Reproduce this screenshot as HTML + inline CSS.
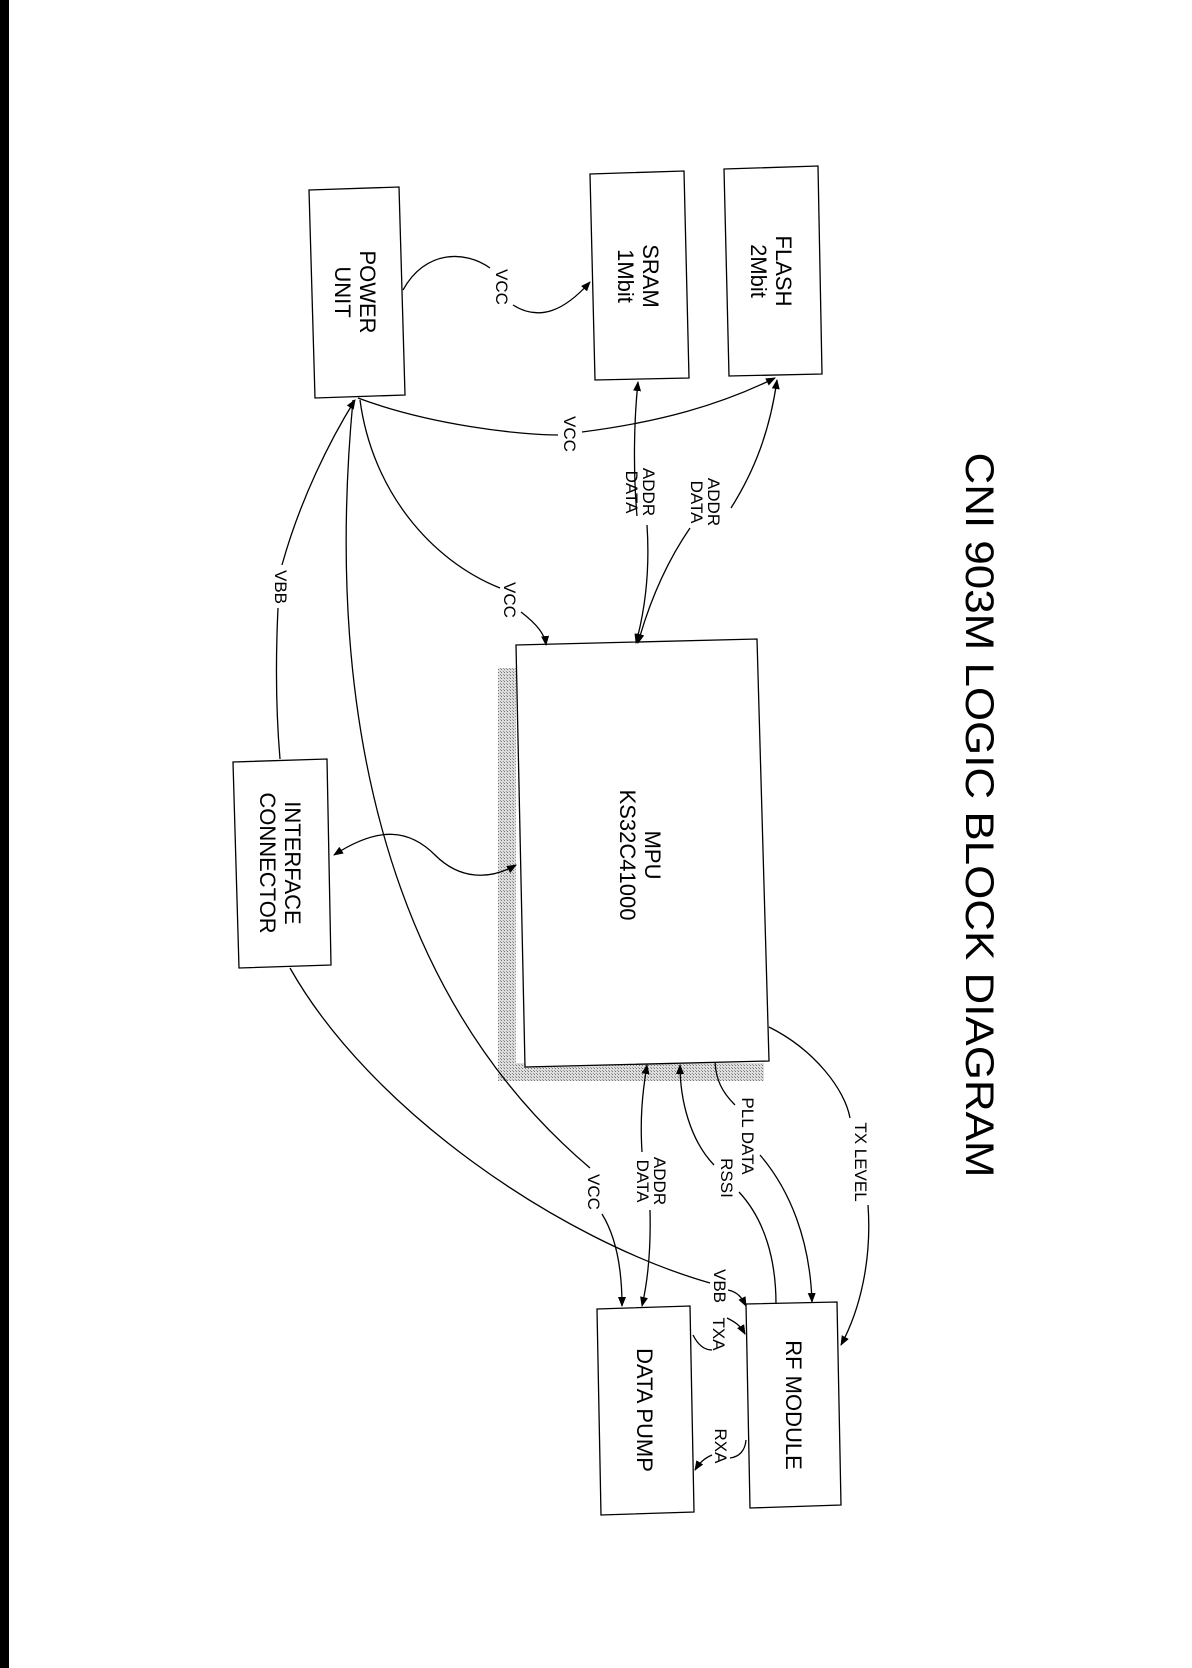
<!DOCTYPE html>
<html><head><meta charset="utf-8"><style>html,body{margin:0;padding:0;background:#fff}svg{display:block}text{font-family:"Liberation Sans",Arial,sans-serif;fill:#000}</style></head>
<body>
<svg width="1192" height="1668" viewBox="0 0 1192 1668" xmlns="http://www.w3.org/2000/svg">
<defs>
<marker id="a" markerWidth="10" markerHeight="8" refX="9" refY="4" orient="auto" markerUnits="userSpaceOnUse"><path d="M0,0 L10,4 L0,8 z" fill="#000"/></marker>
<marker id="b" markerWidth="10" markerHeight="8" refX="1" refY="4" orient="auto" markerUnits="userSpaceOnUse"><path d="M10,0 L0,4 L10,8 z" fill="#000"/></marker>
<pattern id="h" width="3" height="3" patternUnits="userSpaceOnUse"><rect width="3" height="3" fill="#ddd"/><rect width="1" height="1" fill="#777"/><rect x="2" y="2" width="1" height="1" fill="#999"/></pattern>
</defs>
<rect x="0" y="0" width="9" height="1668" fill="#000"/>
<g fill="none" stroke="#000" stroke-width="1.3">
<rect x="498" y="668" width="18" height="413" fill="url(#h)" stroke="none"/>
<rect x="498" y="1063" width="266" height="18" fill="url(#h)" stroke="none"/>
<polygon points="516,645 757,639 769,1061 525,1067" fill="#fff"/>
<polygon points="309,190 399,187 405,395 315,398" fill="#fff"/>
<polygon points="590,174 684,171 689,378 595,380" fill="#fff"/>
<polygon points="724,169 818,166 822,374 729,376" fill="#fff"/>
<polygon points="233,762 327,759 331,965 239,968" fill="#fff"/>
<polygon points="597,1309 690,1306 694,1512 601,1515" fill="#fff"/>
<polygon points="746,1304 837,1302 841,1505 750,1508" fill="#fff"/>

<path d="M403,290 C425,250 465,250 490,268"/>
<path d="M513,305 C540,322 565,310 590,282" marker-end="url(#a)"/>
<path d="M358,398 C430,425 520,435 558,435"/>
<path d="M582,432 C660,422 720,405 775,378" marker-end="url(#a)"/>
<path d="M637,516 C633,470 634,420 638,382" marker-end="url(#a)"/>
<path d="M647,525 C650,570 645,610 636,643" marker-end="url(#a)"/>
<path d="M731,508 C755,470 770,430 777,380" marker-end="url(#a)"/>
<path d="M690,528 C668,560 650,600 638,643" marker-end="url(#a)"/>
<path d="M360,400 C372,490 430,560 500,588"/>
<path d="M521,612 C538,625 545,635 546,645" marker-end="url(#a)"/>
<path d="M280,759 C275,700 276,650 278,608"/>
<path d="M282,565 C300,500 330,440 355,400" marker-end="url(#a)"/>
<path d="M353,400 C325,700 380,990 590,1168"/>
<path d="M602,1214 C618,1240 622,1275 622,1306" marker-end="url(#a)"/>
<path d="M290,968 C370,1110 560,1240 710,1283"/>
<path d="M728,1290 C738,1292 742,1298 746,1306" marker-end="url(#a)"/>
<path d="M334,855 C380,825 410,830 435,855 C460,880 490,880 516,865" marker-end="url(#a)" marker-start="url(#b)"/>
<path d="M642,1152 C640,1120 642,1095 647,1065" marker-end="url(#a)"/>
<path d="M650,1210 C651,1250 648,1280 642,1306" marker-end="url(#a)"/>
<path d="M714,1165 C690,1140 680,1100 680,1065" marker-end="url(#a)"/>
<path d="M739,1192 C765,1220 776,1260 776,1304"/>
<path d="M715,1062 C716,1080 722,1092 735,1105"/>
<path d="M760,1155 C790,1190 810,1240 812,1302" marker-end="url(#a)"/>
<path d="M769,1027 C815,1050 845,1090 850,1118"/>
<path d="M868,1205 C872,1260 860,1310 841,1345" marker-end="url(#a)"/>
<path d="M693,1335 C698,1345 704,1350 712,1350"/>
<path d="M727,1318 C735,1322 740,1325 745,1334" marker-end="url(#a)"/>
<path d="M746,1440 C745,1452 738,1457 730,1458"/>
<path d="M712,1455 C705,1458 700,1462 695,1470" marker-end="url(#a)"/>
</g>

<g font-size="22" text-anchor="middle">
<text transform="translate(357,292) rotate(90)"><tspan x="0" y="-3">POWER</tspan><tspan x="0" y="22">UNIT</tspan></text>
<text transform="translate(640,276) rotate(90)"><tspan x="0" y="-3">SRAM</tspan><tspan x="0" y="22">1Mbit</tspan></text>
<text transform="translate(773,271) rotate(90)"><tspan x="0" y="-3">FLASH</tspan><tspan x="0" y="22">2Mbit</tspan></text>
<text transform="translate(642,855) rotate(90)"><tspan x="0" y="-3">MPU</tspan><tspan x="0" y="22">KS32C41000</tspan></text>
<text transform="translate(282,863) rotate(90)"><tspan x="0" y="-3">INTERFACE</tspan><tspan x="0" y="22">CONNECTOR</tspan></text>
<text transform="translate(645,1410) rotate(90)" dy="8">DATA PUMP</text>
<text transform="translate(794,1405) rotate(90)" dy="8">RF MODULE</text>
</g>
<g font-size="17" text-anchor="middle">
<text transform="translate(502,287) rotate(90)" dy="6">VCC</text>
<text transform="translate(570,434) rotate(90)" dy="6">VCC</text>
<text transform="translate(641,492) rotate(90)"><tspan x="0" y="-2">ADDR</tspan><tspan x="0" y="15">DATA</tspan></text>
<text transform="translate(706,502) rotate(90)"><tspan x="0" y="-2">ADDR</tspan><tspan x="0" y="15">DATA</tspan></text>
<text transform="translate(510,600) rotate(90)" dy="6">VCC</text>
<text transform="translate(281,587) rotate(90)" dy="6">VBB</text>
<text transform="translate(652,1181) rotate(90)"><tspan x="0" y="-2">ADDR</tspan><tspan x="0" y="15">DATA</tspan></text>
<text transform="translate(594,1192) rotate(90)" dy="6">VCC</text>
<text transform="translate(727,1178) rotate(90)" dy="6">RSSI</text>
<text transform="translate(748,1136) rotate(90)" dy="6">PLL DATA</text>
<text transform="translate(861,1162) rotate(90)" dy="6">TX LEVEL</text>
<text transform="translate(720,1286) rotate(90)" dy="6">VBB</text>
<text transform="translate(719,1334) rotate(90)" dy="6">TXA</text>
<text transform="translate(721,1446) rotate(90)" dy="6">RXA</text>
</g>
<text transform="translate(980,815) rotate(90)" font-size="40" text-anchor="middle" dy="14" textLength="725" lengthAdjust="spacingAndGlyphs">CNI 903M LOGIC BLOCK DIAGRAM</text>
</svg>
</body></html>
